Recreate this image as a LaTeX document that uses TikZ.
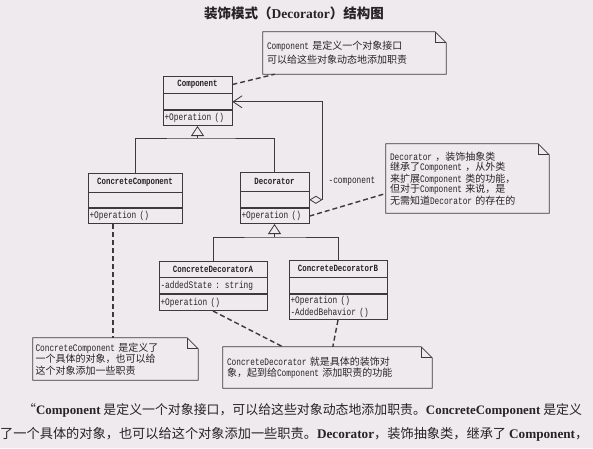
\documentclass[tikz,border=0pt]{standalone}
\usepackage{fontspec}
\setmainfont{Noto Sans CJK SC}
\newfontfamily\umlfont[FakeStretch=0.78]{Liberation Mono}
\newfontfamily\latinserif{Liberation Serif}
\newcommand\umltx[1]{{\umlfont #1}}
\newcommand\boldlat[1]{{\latinserif\bfseries #1}}
\usetikzlibrary{arrows.meta,calc,positioning}
\definecolor{paper}{HTML}{EEEAEE}
\definecolor{ink}{HTML}{3C3A3C}
\definecolor{txt}{HTML}{262426}

\begin{document}
\begin{tikzpicture}[x=1pt,y=-1pt,
  every node/.style={text=txt},
  clsname/.style={draw=ink,line width=.8pt,inner sep=0pt,
    font=\umlfont\bfseries\fontsize{9.5}{12}\selectfont},
  clspart/.style={draw=ink,line width=.8pt,inner xsep=1.5pt,inner ysep=0pt,
    align=left,font=\umlfont\fontsize{10}{12}\selectfont},
  notebox/.style={inner xsep=4pt,inner ysep=0pt,align=left},
  noteline/.style={draw=ink,line width=.8pt},
  notelink/.style={draw=ink,line width=1.4pt,dash pattern=on 5pt off 3pt},
  assoc/.style={draw=ink,line width=.8pt},
  gen/.style={assoc,-{Triangle[open,length=10pt,width=13pt]}},
  aggr/.style={assoc,{Diamond[open,length=13pt,width=8pt]}-{Straight Barb[length=9pt,width=12pt]}}]
  \fill[paper] (0,0) rectangle (593,448);
  \useasboundingbox (0,0) rectangle (593,448);

  \node[font=\bfseries\fontsize{13.5}{16}\selectfont] (title) at (294,13)
    {装饰模式（\boldlat{Decorator}）结构图};

  % classes
  \node[clsname,minimum width=69pt,minimum height=17pt] (comp) at (197.5,84.5) {Component};
  \node[clspart,text width=66pt,minimum height=16pt,below=0pt of comp] (comp-a) {};
  \node[clspart,text width=66pt,minimum height=15pt,below=0pt of comp-a] (comp-o) {+Operation ()};

  \node[clsname,minimum width=94pt,minimum height=19pt] (cc) at (135,182.5) {ConcreteComponent};
  \node[clspart,text width=91pt,minimum height=15pt,below=0pt of cc] (cc-a) {};
  \node[clspart,text width=91pt,minimum height=15pt,below=0pt of cc-a] (cc-o) {+Operation ()};

  \node[clsname,minimum width=69pt,minimum height=19pt] (dec) at (274.5,181.5) {Decorator};
  \node[clspart,text width=66pt,minimum height=16pt,below=0pt of dec] (dec-a) {};
  \node[clspart,text width=66pt,minimum height=15pt,below=0pt of dec-a] (dec-o) {+Operation ()};

  \node[clsname,minimum width=108pt,minimum height=16pt] (cda) at (213,269) {ConcreteDecoratorA};
  \node[clspart,text width=105pt,minimum height=16pt,below=0pt of cda] (cda-a) {-addedState : string};
  \node[clspart,text width=105pt,minimum height=16pt,below=0pt of cda-a] (cda-o) {+Operation ()};

  \node[clsname,minimum width=98pt,minimum height=17pt] (cdb) at (338,268.5) {ConcreteDecoratorB};
  \node[clspart,text width=95pt,minimum height=16pt,below=0pt of cdb] (cdb-a) {};
  \node[clspart,text width=95pt,minimum height=25pt,below=0pt of cdb-a] (cdb-o)
    {+Operation ()\\-AddedBehavior ()};

  % inheritance and aggregation
  \coordinate (inh1) at (197.5,138);
  \coordinate (inh2) at (274.5,237);
  \draw[assoc] (cc.north) |- (inh1) -| (dec.north);
  \draw[gen] (inh1) -- (comp-o.south);
  \draw[assoc] (cda.north) |- (inh2) -| (cdb.north);
  \draw[gen] (inh2) -- (dec-o.south);
  \draw[aggr] (dec-a.east) -- ++(13,0) |- (comp-a.east);
  \node[font=\umlfont\fontsize{10}{12}\selectfont] (role) at (352,181) {-component};

  % notes
  \node[notebox,text width=175pt,minimum height=42pt,font=\fontsize{10}{14}\selectfont]
    (topnote) at (354.5,53)
    {\umltx{Component} 是定义一个对象接口\\可以给这些对象动态地添加职责};
  \node[notebox,text width=155pt,minimum height=69pt,font=\fontsize{10}{10.5}\selectfont]
    (decnote) at (467.5,178.5)
    {\umltx{Decorator} ，装饰抽象类\\继承了\umltx{Component} ，从外类\\来扩展\umltx{Component} 类的功能，\\%
     但对于\umltx{Component} 来说，是\\无需知道\umltx{Decorator} 的存在的};
  \node[notebox,inner xsep=2.5pt,text width=160pt,minimum height=42pt,font=\fontsize{10}{11.5}\selectfont]
    (ccnote) at (115.5,359)
    {\umltx{ConcreteComponent} 是定义了\\一个具体的对象，也可以给\\这个对象添加一些职责};
  \node[notebox,text width=201pt,minimum height=41pt,font=\fontsize{10}{11}\selectfont]
    (cdnote) at (327.5,367.5)
    {\umltx{ConcreteDecorator} 就是具体的装饰对\\象，起到给\umltx{Component} 添加职责的功能};
  \foreach \n in {topnote,decnote,ccnote,cdnote} {
    \draw[noteline] (\n.south west) -- (\n.north west) -- ($(\n.north east)+(-11,0)$)
      -- ($(\n.north east)+(0,11)$) -- (\n.south east) -- cycle;
    \draw[noteline] ($(\n.north east)+(-11,0)$) |- ($(\n.north east)+(0,11)$);
  }

  \draw[notelink] (comp.east) -- ($(topnote.south west)+(12,0)$);
  \draw[notelink] ($(cc-o.south)+(-22,0)$) -- ($(ccnote.north)+(-2.5,0)$);
  \draw[notelink] (dec-o.east) -- ($(decnote.west)+(0,15)$);
  \draw[notelink] (cda-o.south) -- ($(cdnote.north west)+(60,0)$);
  \draw[notelink] (cdb-o.south) -- ($(cdnote.north west)+(110,0)$);

  % text below the figure
  \node[anchor=base west,inner sep=0pt,font=\fontsize{12.9}{15}\selectfont] (para1) at (23,414)
    {“\boldlat{Component} 是定义一个对象接口，可以给这些对象动态地添加职责。\boldlat{ConcreteComponent} 是定义};
  \node[anchor=base west,inner sep=0pt,font=\fontsize{13.2}{15}\selectfont] (para2) at (0,438)
    {了一个具体的对象，也可以给这个对象添加一些职责。\boldlat{Decorator}，装饰抽象类，继承了 \boldlat{Component}，};
\end{tikzpicture}
\end{document}
